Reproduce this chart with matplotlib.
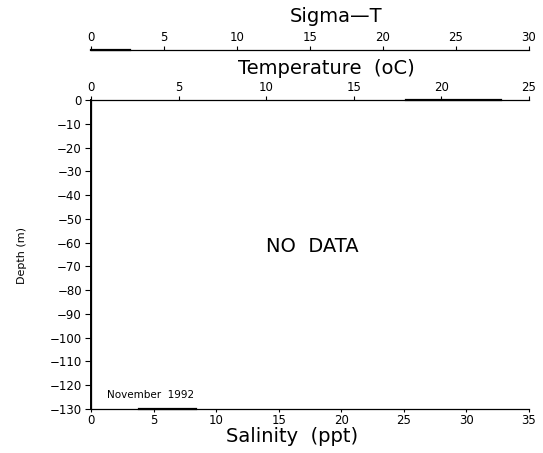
import numpy as np
import matplotlib
matplotlib.use("Agg")
import matplotlib.pyplot as plt

# axis scales
salinity_ticks = [0, 5, 10, 15, 20, 25, 30, 35]
temperature_ticks = [0, 5, 10, 15, 20, 25]
sigma_ticks = [0, 5, 10, 15, 20, 25, 30]
depth_ticks = [0, -10, -20, -30, -40, -50, -60, -70, -80, -90, -100, -110, -120, -130]

# faint traces left on the axes (no real profile)
sal_trace_x = [0, 0]
sal_trace_depth = [0, -130]
sal_bottom_x = [3.8, 8.4]
temp_top_x = [18.0, 23.4]
sigma_line_x = [0, 2.7]

W, H = 543, 453
fig = plt.figure(figsize=(W / 100, H / 100), dpi=100)

left, right = 91 / W, 529 / W
bottom, top = 1 - 409 / H, 1 - 100 / H

ax = fig.add_axes([left, bottom, right - left, top - bottom])
ax.set_xlim(0, 35)
ax.set_ylim(-130, 0)
ax.set_xticks(salinity_ticks)
ax.set_yticks(depth_ticks)
ax.spines['right'].set_visible(False)
ax.spines['top'].set_visible(False)
for s in ['left', 'bottom']:
    ax.spines[s].set_linewidth(0.9)
ax.tick_params(axis='y', direction='out', length=4.5, width=0.8, pad=2, labelsize=8.5)
ax.tick_params(axis='x', direction='out', length=2.5, width=0.8, pad=1, labelsize=8.5)

ax.plot(sal_trace_x, sal_trace_depth, color='black', lw=1.4, clip_on=False)
ax.plot(sal_bottom_x, [-130, -130], color='black', lw=1.6, clip_on=False)

ax.text(0.505, 0.525, 'NO  DATA', transform=ax.transAxes, ha='center', va='center',
        fontsize=14)
ax.text(0.037, 0.045, 'November  1992', transform=ax.transAxes, ha='left', va='center',
        fontsize=7.5)

# temperature axis on top of the main frame
ax_t = ax.twiny()
ax_t.set_xlim(0, 25)
ax_t.set_xticks(temperature_ticks)
for s in ['left', 'right', 'bottom']:
    ax_t.spines[s].set_visible(False)
ax_t.spines['top'].set_linewidth(0.9)
ax_t.tick_params(axis='x', direction='out', length=3, width=0.8, pad=1.5, labelsize=8.5)
ax_t.plot(temp_top_x, [0, 0], color='black', lw=1.6, clip_on=False)

# separate sigma-T axis line above
ax_s = fig.add_axes([left, 1 - 50 / H, right - left, 1e-4])
ax_s.set_xlim(0, 30)
ax_s.set_ylim(0, 1)
ax_s.set_yticks([])
ax_s.set_xticks(sigma_ticks)
ax_s.xaxis.tick_top()
for s in ['left', 'right', 'bottom']:
    ax_s.spines[s].set_visible(False)
ax_s.spines['top'].set_linewidth(0.9)
ax_s.tick_params(axis='x', direction='out', length=3, width=0.8, pad=1.5, labelsize=8.5)
ax_s.plot(sigma_line_x, [1, 1], color='black', lw=1.6, clip_on=False)

# axis titles
fig.text(336 / W, 1 - 16 / H, 'Sigma\u2014T', ha='center', va='center', fontsize=14)
fig.text(326 / W, 1 - 68 / H, 'Temperature  (oC)', ha='center', va='center', fontsize=14)
fig.text(292 / W, 1 - 437 / H, 'Salinity  (ppt)', ha='center', va='center', fontsize=14)
fig.text(22 / W, 1 - 255 / H, 'Depth (m)', ha='center', va='center', rotation=90, fontsize=8)

fig.savefig('out.png', dpi=100)
